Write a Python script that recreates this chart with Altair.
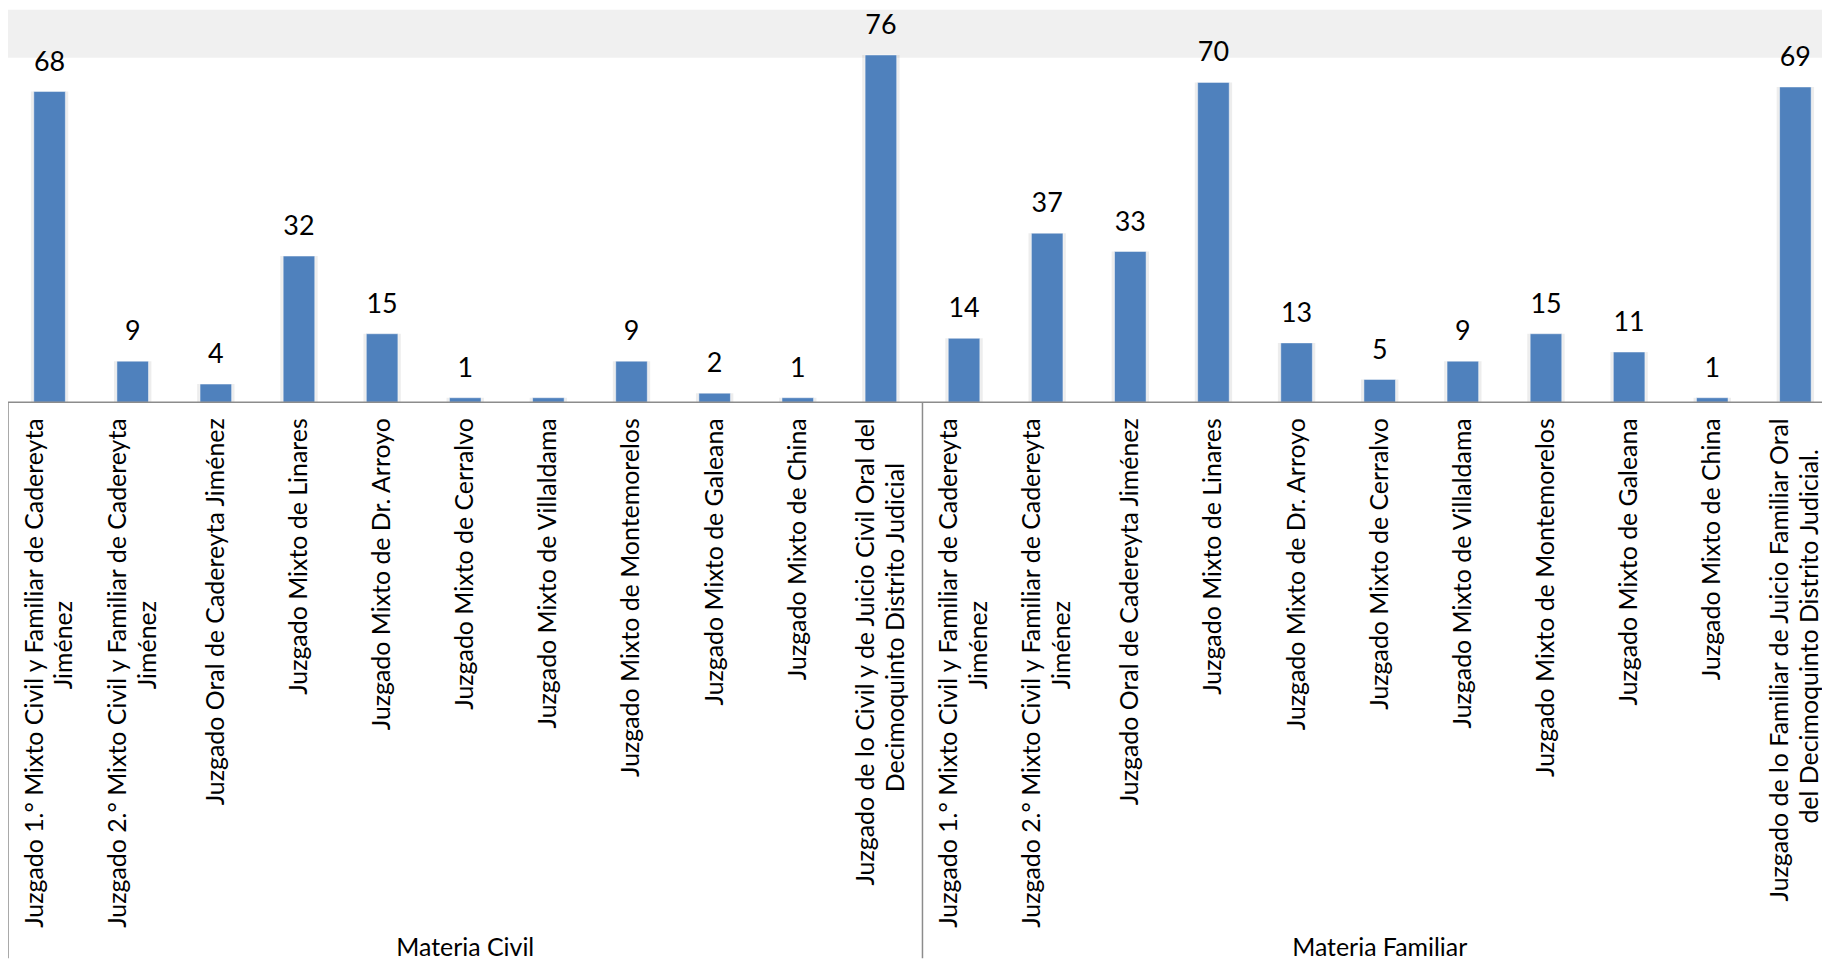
import altair as alt
import pandas as pd

# ---- data ----
grupos = ["Materia Civil", "Materia Familiar"]

juzgados_civil = [
    "Juzgado 1.° Mixto Civil y Familiar de Cadereyta\nJiménez",
    "Juzgado 2.° Mixto Civil y Familiar de Cadereyta\nJiménez",
    "Juzgado Oral de Cadereyta Jiménez",
    "Juzgado Mixto de Linares",
    "Juzgado Mixto de Dr. Arroyo",
    "Juzgado Mixto de Cerralvo",
    "Juzgado Mixto de Villaldama",
    "Juzgado Mixto de Montemorelos",
    "Juzgado Mixto de Galeana",
    "Juzgado Mixto de China",
    "Juzgado de lo Civil y de Juicio Civil Oral del\nDecimoquinto Distrito Judicial",
]
juzgados_familiar = [
    "Juzgado 1.° Mixto Civil y Familiar de Cadereyta\nJiménez",
    "Juzgado 2.° Mixto Civil y Familiar de Cadereyta\nJiménez",
    "Juzgado Oral de Cadereyta Jiménez",
    "Juzgado Mixto de Linares",
    "Juzgado Mixto de Dr. Arroyo",
    "Juzgado Mixto de Cerralvo",
    "Juzgado Mixto de Villaldama",
    "Juzgado Mixto de Montemorelos",
    "Juzgado Mixto de Galeana",
    "Juzgado Mixto de China",
    "Juzgado de lo Familiar de Juicio Familiar Oral\ndel Decimoquinto Distrito Judicial.",
]
valores_civil = [68, 9, 4, 32, 15, 1, 1, 9, 2, 1, 76]
etiquetas_civil = ["68", "9", "4", "32", "15", "1", "", "9", "2", "1", "76"]
valores_familiar = [14, 37, 33, 70, 13, 5, 9, 15, 11, 1, 69]
etiquetas_familiar = ["14", "37", "33", "70", "13", "5", "9", "15", "11", "1", "69"]

# ---- build tables ----
rows = []
for g, nombres, vals, etqs in [
    (grupos[0], juzgados_civil, valores_civil, etiquetas_civil),
    (grupos[1], juzgados_familiar, valores_familiar, etiquetas_familiar),
]:
    for i, (n, v, e) in enumerate(zip(nombres, vals, etqs)):
        partes = n.split("\n")
        rows.append({
            "key": f"{g}|{i}",
            "grupo": g,
            "l1": partes[0],
            "l2": partes[1] if len(partes) > 1 else "",
            "nlines": len(partes),
            "valor": v,
            "etiqueta": e,
        })
df = pd.DataFrame(rows)
keys = list(df["key"])

grp_first = pd.DataFrame([{"key": df[df.grupo == g]["key"].iloc[0]} for g in grupos])
grp_mid = pd.DataFrame([
    {"key": df[df.grupo == g]["key"].iloc[len(df[df.grupo == g]) // 2], "grupo": g}
    for g in grupos
])

W = 1821
H = 394
STEP_TOTAL = 1836
FONT = "Lato"
FS_AX = 25
FS_VAL = 27
FS_GRP = 25
LINE = "#8C8C8C"

xscale = alt.Scale(domain=keys, range=[0, STEP_TOTAL], paddingInner=0, paddingOuter=0)
X = alt.X("key:N", scale=xscale, axis=None)
yscale = alt.Scale(domain=[0, 85.88], nice=False, zero=True)
Y = alt.Y("valor:Q", scale=yscale, axis=None)

base = alt.Chart(df)

band = alt.Chart(alt.Data(values=[{"a": 1}])).mark_rect(color="#F0F0F0").encode(
    x=alt.value(0), x2=alt.value(W), y=alt.value(0), y2=alt.value(48)
)

shadow = base.mark_bar(color="#000000", opacity=0.07, width=alt.RelativeBandSize(0.45)).encode(
    x=X, y=Y
)
bars = base.mark_bar(
    color="#4F81BD", width=alt.RelativeBandSize(0.38), stroke="#ffffff", strokeWidth=0.8, strokeOpacity=0.6
).encode(x=X, y=Y)

vals = base.mark_text(
    font=FONT, fontSize=FS_VAL, color="#000000", baseline="alphabetic", dy=-21
).encode(x=X, y=Y, text="etiqueta:N")

baseline = alt.Chart(alt.Data(values=[{"a": 1}])).mark_rule(color=LINE, strokeWidth=1.5).encode(
    y=alt.Y(datum=0, scale=yscale, axis=None), x=alt.value(0), x2=alt.value(W)
)

dividers = alt.Chart(grp_first).mark_rule(color=LINE, strokeWidth=1.5).encode(
    x=alt.X("key:N", scale=xscale, axis=None, bandPosition=0),
    y=alt.value(H), y2=alt.value(952),
)

lab_common = dict(font=FONT, fontSize=FS_AX, color="#000000", angle=270, baseline="middle")
lab1 = base.transform_filter("datum.nlines == 1").mark_text(align="right", **lab_common).encode(
    x=X, y=alt.value(H + 16), text="l1:N"
)
lab2a = base.transform_filter("datum.nlines == 2").mark_text(align="right", dy=-15, **lab_common).encode(
    x=X, y=alt.value(H + 16), text="l1:N"
)
lab2b = (
    base.transform_filter("datum.nlines == 2")
    .transform_calculate(
        nn="length(datum.l1) - length(replace(datum.l1, regexp('[il .°]', 'g'), ''))"
    )
    .transform_calculate(ypos=f"{H + 16} + ((length(datum.l1) - datum.nn) * 11.7 + datum.nn * 5.8) / 2")
    .mark_text(align="center", dy=15, **lab_common)
    .encode(x=X, y=alt.Y("ypos:Q", scale=None, axis=None), text="l2:N")
)

grp_lab = alt.Chart(grp_mid).mark_text(
    font=FONT, fontSize=FS_GRP, color="#000000", baseline="alphabetic"
).encode(
    x=alt.X("key:N", scale=xscale, axis=None), y=alt.value(950), text="grupo:N"
)

chart = alt.layer(
    band, shadow, bars, vals, baseline, dividers, lab1, lab2a, lab2b, grp_lab
).properties(
    width=W, height=H,
    autosize=alt.AutoSizeParams(type="none"),
    padding={"left": 0, "top": 0, "right": 0, "bottom": 558},
    background="#ffffff",
).configure_view(stroke=None, fill="#ffffff")

chart.save("out.html", embed_options={"renderer": "svg", "actions": False})
